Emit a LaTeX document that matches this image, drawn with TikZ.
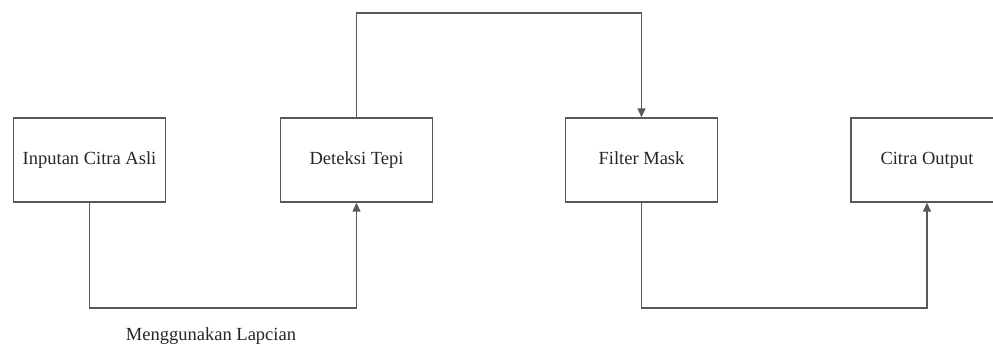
\documentclass[tikz,border=0pt]{standalone}
\usepackage{fontspec}
\setmainfont{Liberation Serif}
\usetikzlibrary{arrows.meta}
\begin{document}
\begin{tikzpicture}[x=1pt,y=-1pt]
\tikzset{
  txt/.style={font=\fontsize{18.5}{21}\selectfont, text=black!85},
  blk/.style={txt, draw=black!65, line width=1.4pt, minimum width=152pt, minimum height=84pt, inner sep=0pt, text height=12.5pt, text depth=3.5pt},
  conn/.style={draw=black!65, line width=1.4pt, -{Triangle[length=9pt,width=8pt]}},
}
\useasboundingbox (0,0) rectangle (993,347);
\clip (0,0) rectangle (993,347);
\node[blk] (b1) at (89.5,160) {Inputan Citra Asli};
\node[blk] (b2) at (356.5,160) {Deteksi Tepi};
\node[blk] (b3) at (641.5,160) {Filter Mask};
\node[blk] (b4) at (927,160) {Citra Output};
\coordinate (low) at (0,308);
\coordinate (high) at (0,13);
\draw[conn] (b1.south) |- (low -| b2.south) -- (b2.south);
\draw[conn] (b2.north) |- (high -| b3.north) -- (b3.north);
\draw[conn] (b3.south) |- (low -| b4.south) -- (b4.south);
\node[txt] (lbl) at (211,336) {Menggunakan Lapcian};
\end{tikzpicture}
\end{document}
